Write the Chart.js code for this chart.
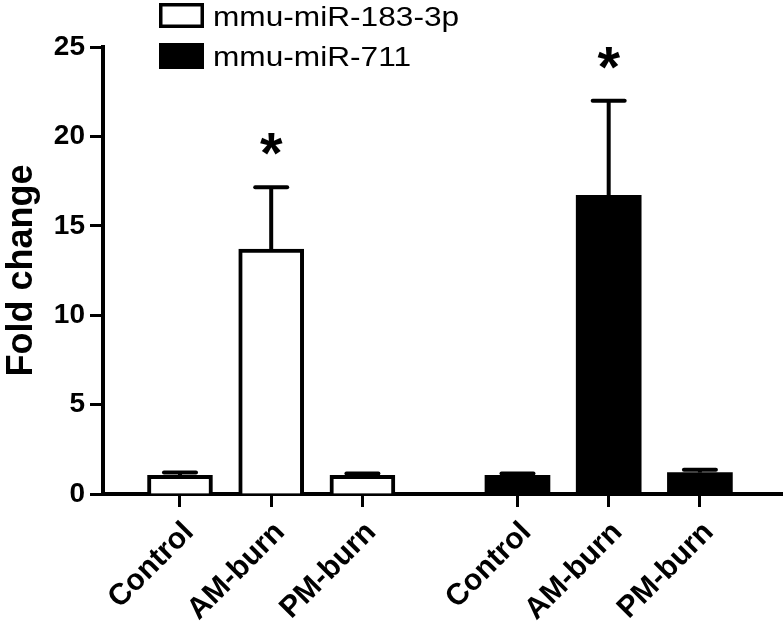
<!DOCTYPE html>
<html>
<head>
<meta charset="utf-8">
<script src="https://cdn.jsdelivr.net/npm/chart.js@4.4.1/dist/chart.umd.min.js"></script>
<style>
    html, body { margin: 0; padding: 0; background: #fff; }
    #wrap { width: 784px; height: 632px; }
</style>
</head>
<body>
<div id="wrap"><canvas id="chart"></canvas></div>
<script>
// data
var seriesNames = ['mmu-miR-183-3p', 'mmu-miR-711'];
var categories = ['Control', 'AM-burn', 'PM-burn'];
var miR183 = [1.05, 13.7, 1.04];
var miR183Err = [0.15, 3.45, 0.1];
var miR711 = [1.05, 16.7, 1.2];
var miR711Err = [0.1, 5.3, 0.16];
var starred = [false, true, false];
var yTicks = [0, 5, 10, 15, 20, 25];

var FONT = '"Liberation Sans", Arial, sans-serif';
var GAP = 0.7;  // extra space between the two groups, in bar slots

function slot(group, i) {
    return group * (categories.length + GAP) + i;
}

var tickPos = [];
var tickLabels = [];
[0, 1].forEach(function (g) {
    categories.forEach(function (c, i) {
        tickPos.push(slot(g, i));
        tickLabels.push(c);
    });
});

function points(group, values) {
    return values.map(function (v, i) { return { x: slot(group, i), y: v }; });
}

var errs = [miR183Err, miR711Err];
var vals = [miR183, miR711];

//!error bars + asterisks
var errorBars = {
    id: 'errorBars',
    afterDatasetsDraw: function (chart) {
        var ctx = chart.ctx;
        var y = chart.scales.y;
        ctx.save();
        ctx.strokeStyle = '#000';
        ctx.fillStyle = '#000';
        ctx.lineWidth = 4;
        chart.data.datasets.forEach(function (ds, d) {
            var meta = chart.getDatasetMeta(d);
            meta.data.forEach(function (bar, i) {
                var top = y.getPixelForValue(vals[d][i] + errs[d][i]);
                ctx.lineCap = 'butt';
                ctx.beginPath();
                ctx.moveTo(bar.x, bar.y);
                ctx.lineTo(bar.x, top);
                ctx.stroke();
                ctx.lineCap = 'round';
                ctx.beginPath();
                ctx.moveTo(bar.x - 16, top);
                ctx.lineTo(bar.x + 16, top);
                ctx.stroke();
                if (starred[i]) {
                    ctx.font = 'bold 58px ' + FONT;
                    ctx.textAlign = 'center';
                    ctx.textBaseline = 'alphabetic';
                    var m = ctx.measureText('*');
                    var mid = (m.actualBoundingBoxAscent - m.actualBoundingBoxDescent) / 2;
                    ctx.fillText('*', bar.x, top - 43 + mid);
                }
            });
        });
        ctx.restore();
    }
};

//!legend top left
var boxLegend = {
    id: 'boxLegend',
    afterDraw: function (chart) {
        var ctx = chart.ctx;
        ctx.save();
        ctx.strokeStyle = '#000';
        ctx.fillStyle = '#000';
        ctx.lineWidth = 3.5;
        ctx.strokeRect(160.75, 4.75, 41.5, 21.5);
        ctx.fillRect(159, 43, 45, 26);
        ctx.font = '28px ' + FONT;
        ctx.textAlign = 'left';
        ctx.textBaseline = 'alphabetic';
        [25.5, 65.5].forEach(function (base, k) {
            ctx.save();
            ctx.translate(213, base);
            ctx.scale(1.13, 1);
            ctx.fillText(seriesNames[k], 0, 0);
            ctx.restore();
        });
        ctx.restore();
    }
};

var ctx = document.getElementById('chart').getContext('2d');
var chart = new Chart(ctx, {
    type: 'bar',
    data: {
        datasets: [
            {
                label: seriesNames[0],
                data: points(0, miR183),
                backgroundColor: '#fff',
                borderColor: '#000',
                borderWidth: 4,
                barThickness: 65,
                grouped: false
            },
            {
                label: seriesNames[1],
                data: points(1, miR711),
                backgroundColor: '#000',
                borderColor: '#000',
                borderWidth: 0,
                barThickness: 65,
                grouped: false
            }]
    },
    options: {
        responsive: true,
        maintainAspectRatio: false,
        animation: false,
        layout: { padding: { left: 0, top: 47, right: 2, bottom: 0 } },
        plugins: {
            legend: { display: false },
            tooltip: { enabled: false }
        },
        scales: {
            x: {
                type: 'linear',
                position: 'bottom',
                offset: false,
                min: -0.844,
                max: 6.6,
                afterBuildTicks: function (scale) {
                    scale.ticks = tickPos.map(function (p) { return { value: p }; });
                },
                afterFit: function (scale) { scale.height = 138; },
                grid: { offset: false, drawOnChartArea: false, drawTicks: true, tickLength: 13, tickWidth: 3, tickColor: '#000' },
                border: { display: true, width: 4, color: '#000' },
                ticks: {
                    autoSkip: false,
                    minRotation: 45,
                    maxRotation: 45,
                    padding: 8,
                    labelOffset: 9,
                    color: '#000',
                    font: { family: FONT, size: 30, weight: 'bold' },
                    callback: function (v, i) { return tickLabels[i]; }
                }
            },
            y: {
                min: 0,
                max: 25,
                afterBuildTicks: function (scale) {
                    scale.ticks = yTicks.map(function (v) { return { value: v }; });
                },
                afterFit: function (scale) { scale.width = 103; },
                grid: { drawOnChartArea: false, drawTicks: true, tickLength: 13, tickWidth: 3, tickColor: '#000' },
                border: { display: true, width: 4, color: '#000' },
                ticks: {
                    padding: 5,
                    color: '#000',
                    font: { family: FONT, size: 28, weight: 'bold' }
                },
                title: {
                    display: true,
                    text: 'Fold change',
                    color: '#000',
                    padding: 0,
                    font: { family: FONT, size: 36, weight: 'bold' }
                }
            }
        }
    },
    plugins: [errorBars, boxLegend]
});
</script>
</body>
</html>
